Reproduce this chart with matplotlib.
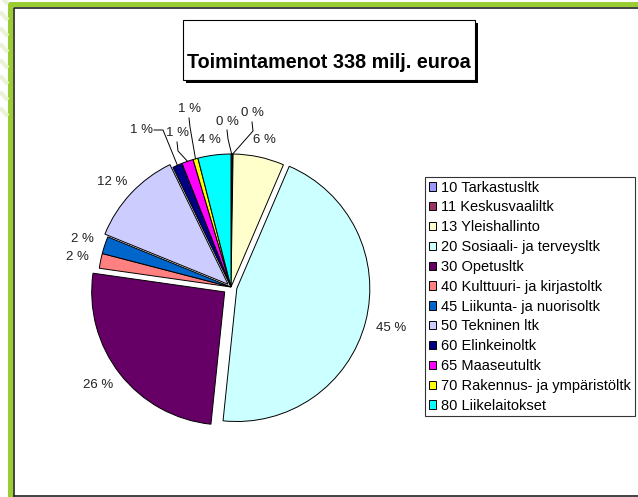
import numpy as np
import matplotlib.pyplot as plt
from matplotlib.patches import Rectangle

plt.rcParams['font.family'] = ['Liberation Sans', 'DejaVu Sans']

# expenditure shares per unit (% of 338 milj. euroa)
names = ["10 Tarkastusltk", "11 Keskusvaaliltk", "13 Yleishallinto",
         "20 Sosiaali- ja terveysltk", "30 Opetusltk", "40 Kulttuuri- ja kirjastoltk",
         "45 Liikunta- ja nuorisoltk", "50 Tekninen ltk", "60 Elinkeinoltk",
         "65 Maaseutultk", "70 Rakennus- ja ympäristöltk", "80 Liikelaitokset"]
shares = [0.15, 0.1, 6.2, 45.2, 25.6, 1.8, 2.1, 11.65, 1.2, 1.4, 0.6, 4.0]
colors = ["#9999FF", "#993366", "#FFFFCC", "#CCFFFF", "#660066", "#FF8080",
          "#0066CC", "#CCCCFF", "#000080", "#FF00FF", "#FFFF00", "#00FFFF"]
explode = [0, 0, 0, 6, 8, 0, 0, 4, 0, 0, 0, 0]   # offsets in px

W, H = 638, 497

# label text positions in pixels (x, y from top); leader start points (None = no leader)
label_xy = [(227, 122), (252, 113), (264, 140), (391, 328), (98, 385), (77, 257),
            (82, 239), (112, 182), (142, 130), (177, 133), (189, 109), (209, 140)]
leader_from = [(227, 130), (252, 122), None, None, None, None,
               None, None, (154, 130), (177, 142), (189, 118), None]

fig = plt.figure(figsize=(W / 100, H / 100), dpi=100)
ax = fig.add_axes([0, 0, 1, 1])

wedges, _ = ax.pie(shares, colors=colors, explode=explode, startangle=90,
                   counterclock=False, radius=133, center=(231, H - 287),
                   wedgeprops=dict(edgecolor='black', linewidth=0.7))
ax.set_xlim(0, W)
ax.set_ylim(0, H)
ax.set_aspect('auto')
ax.axis('off')

total = sum(shares)
for i, w in enumerate(wedges):
    pct = round(100 * shares[i] / total)
    lx, ly = label_xy[i]
    ax.text(lx, H - ly, f"{pct} %", fontsize=9.5, ha='center', va='center', color='#222222')
    if leader_from[i] is not None:
        mid = np.deg2rad((w.theta1 + w.theta2) / 2)
        ex = w.center[0] + w.r * np.cos(mid)
        ey = w.center[1] + w.r * np.sin(mid)
        sx, sy = leader_from[i]
        if i == 8:
            xs = [sx, sx + 9, ex]
            ys = [H - sy, H - sy, ey]
        else:
            xs = [sx, sx + 1, ex]
            ys = [H - sy, H - sy - 9, ey]
        ax.plot(xs, ys, color='black', lw=0.7)

# title box with shadow
ax.add_patch(Rectangle((186, H - 83), 292, 60, fc='black', ec='none'))
ax.add_patch(Rectangle((183, H - 80), 292, 60, fc='white', ec='black', lw=0.8))
ax.text(329, H - 63, "Toimintamenot 338 milj. euroa", fontsize=14.2, fontweight='bold',
        ha='center', va='center')

# frame
for k in range(8):
    y0 = k * 16 - 4
    ax.plot([0, 8], [H - y0, H - y0 - 8], color='#E8F2D6', lw=3, solid_capstyle='butt')
ax.add_patch(Rectangle((8, 0), 5, H - 2, fc='#9ACD32', ec='none'))
ax.add_patch(Rectangle((8, H - 7), W - 8, 5, fc='#9ACD32', ec='none'))
ax.plot([13.5, 13.5, W], [1.5, H - 7.5, H - 7.5], color='#222222', lw=1.2)
ax.plot([13.5, W], [1.5, 1.5], color='#222222', lw=1.2)

leg = ax.legend(wedges, names, loc='upper left', bbox_to_anchor=(425 / W, 1 - 177 / H),
                bbox_transform=fig.transFigure, frameon=True, fancybox=False,
                edgecolor='black', fontsize=10.5, handlelength=0.5, handleheight=0.5,
                handletextpad=0.35, labelspacing=0.40, borderpad=0.25, borderaxespad=0)
leg.get_frame().set_linewidth(0.8)

fig.savefig("out.png", dpi=100)
